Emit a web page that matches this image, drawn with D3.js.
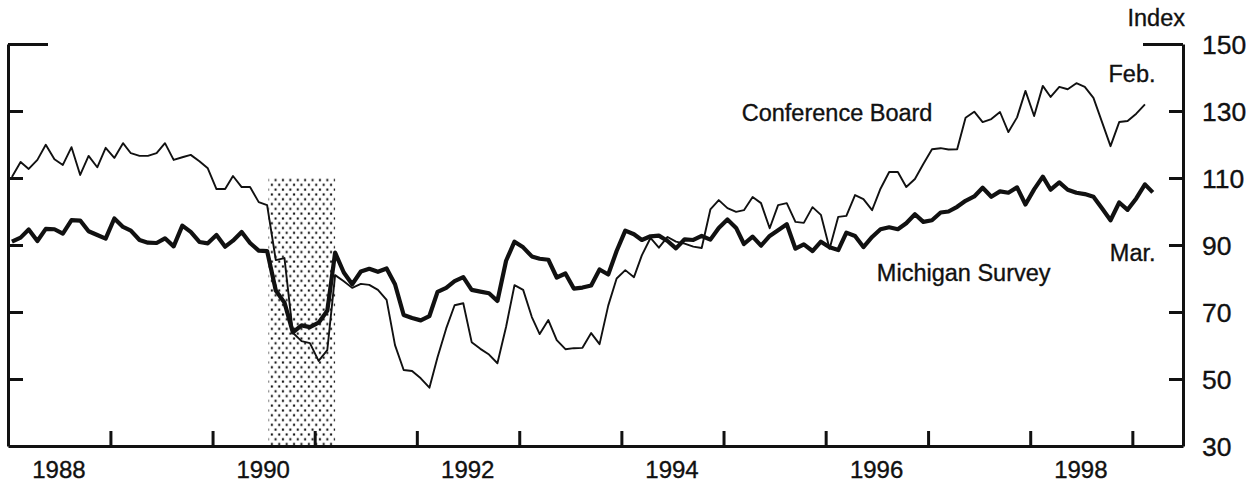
<!DOCTYPE html>
<html>
<head>
<meta charset="utf-8">
<script src="https://cdn.jsdelivr.net/npm/d3@7"></script>
<style>
  body { margin: 0; background: #fff; }
  svg { display: block; }
  text { font-family: "Liberation Sans", Arial, Helvetica, sans-serif; fill: #111; stroke: #111; stroke-width: 0.35px; }
</style>
</head>
<body>
<svg id="chart"></svg>
<script>
// monthly values, Jan 1988 onward
const michigan = [
  91.0, 92.2, 94.6, 91.2, 94.8, 94.7, 93.4, 97.4, 97.3, 94.1, 93.0, 91.9,
  97.9, 95.4, 94.3, 91.5, 90.7, 90.6, 92.0, 89.6, 95.8, 93.9, 90.9, 90.5,
  93.0, 89.5, 91.3, 93.9, 90.6, 88.3, 88.2, 76.4, 72.8, 63.9, 66.0, 65.5,
  66.8, 70.4, 87.7, 81.8, 78.3, 82.1, 82.9, 82.0, 83.0, 78.3, 69.1, 68.2,
  67.5, 68.8, 76.0, 77.2, 79.2, 80.4, 76.6, 76.1, 75.6, 73.3, 85.3, 91.0,
  89.3, 86.6, 85.9, 85.6, 80.3, 81.5, 77.0, 77.3, 77.9, 82.7, 81.2, 88.2,
  94.3, 93.2, 91.5, 92.6, 92.8, 91.2, 89.0, 91.7, 91.5, 92.7, 91.6, 95.1,
  97.6, 95.1, 90.3, 92.5, 89.8, 92.7, 94.4, 96.2, 88.9, 90.2, 88.2, 91.0,
  89.3, 88.5, 93.7, 92.7, 89.4, 92.4, 94.7, 95.3, 94.7, 96.5, 99.2, 96.9,
  97.4, 99.7, 100.0, 101.4, 103.2, 104.5, 107.1, 104.4, 106.0, 105.6, 107.2, 102.1,
  106.6, 110.4, 106.5, 108.7, 106.5, 105.6, 105.2, 104.4, 100.9, 97.4, 102.7, 100.5,
  103.9, 108.1, 105.7
]

const conferenceBoard = [
  110.3, 114.8, 112.7, 115.4, 119.9, 115.6, 113.9, 119.2, 110.9, 116.6, 113.2, 119.0,
  116.0, 120.4, 117.4, 116.6, 116.6, 117.4, 120.4, 115.4, 116.2, 116.9, 115.0, 112.9,
  106.7, 106.7, 110.6, 107.3, 107.3, 102.8, 101.9, 85.5, 86.1, 63.8, 61.3, 60.7,
  55.4, 58.6, 81.0, 79.2, 77.2, 78.4, 78.1, 76.6, 73.6, 60.1, 52.7, 52.4,
  50.2, 47.4, 56.5, 65.1, 72.0, 72.6, 61.0, 59.0, 57.3, 54.7, 65.6, 78.0,
  76.6, 68.5, 63.4, 67.6, 61.6, 58.9, 59.2, 59.3, 63.7, 60.4, 71.9, 80.0,
  82.5, 80.4, 86.9, 92.1, 89.2, 92.4, 91.0, 90.4, 89.5, 89.1, 100.6, 103.4,
  101.0, 99.9, 100.4, 104.3, 102.5, 95.0, 101.9, 102.5, 96.9, 96.6, 101.3, 99.0,
  88.9, 98.4, 98.7, 104.9, 103.7, 100.4, 106.8, 111.8, 111.8, 107.3, 109.7, 114.2,
  118.6, 118.9, 118.5, 118.6, 128.0, 129.8, 126.7, 127.6, 129.7, 123.7, 128.1, 136.0,
  128.5, 137.5, 134.2, 137.2, 136.5, 138.3, 137.2, 133.9, 126.6, 119.5, 126.7, 127.0,
  129.2, 132.0
]

const yTicks = [30, 50, 70, 90, 110, 130, 150]
const yearTicks = [1989, 1990, 1991, 1992, 1993, 1994, 1995, 1996, 1997, 1998, 1999]
const yearLabels = [1988, 1990, 1992, 1994, 1996, 1998]
const recession = { start: [1990, 6], end: [1991, 2], top: 110 }

const width = 1260
const height = 485
const margin = { top: 44, right: 77, bottom: 39, left: 8 }

const monthDate = i => new Date(1988, i, 15)

const x = d3.scaleTime()
  .domain([new Date(1988, 0, 1), new Date(1999, 6, 1)])
  .range([margin.left, width - margin.right])
const y = d3.scaleLinear()
  .domain([30, 150])
  .range([height - margin.bottom, margin.top])

const svg = d3.select('#chart')
  .attr('width', width)
  .attr('height', height)
  .attr('viewBox', [0, 0, width, height])

// dotted recession shading
const defs = svg.append('defs')
const pat = defs.append('pattern')
  .attr('id', 'dots')
  .attr('patternUnits', 'userSpaceOnUse')
  .attr('x', 270)
  .attr('width', 7.4)
  .attr('height', 9.6)
pat.append('rect').attr('x', 0.8).attr('y', 1.4).attr('width', 2.1).attr('height', 2.1).attr('fill', '#111')
pat.append('rect').attr('x', 4.5).attr('y', 6.2).attr('width', 2.1).attr('height', 2.1).attr('fill', '#111')

const r0 = x(new Date(recession.start[0], recession.start[1], 20))
const r1 = x(new Date(recession.end[0], recession.end[1], 15))
svg.append('rect')
  .attr('x', r0)
  .attr('y', y(recession.top))
  .attr('width', r1 - r0)
  .attr('height', y(30) - y(recession.top))
  .attr('fill', 'url(#dots)')

// axes
const axisStyle = g => {
  g.select('.domain').attr('stroke', '#111').attr('stroke-width', 3)
  g.selectAll('.tick line').attr('stroke', '#111').attr('stroke-width', 3)
}

svg.append('g')
  .attr('transform', `translate(0,${y(30)})`)
  .call(d3.axisBottom(x)
    .tickValues(yearTicks.map(yr => new Date(yr, 0, 1)))
    .tickSizeInner(-15)
    .tickSizeOuter(0)
    .tickFormat(''))
  .call(axisStyle)

svg.append('g')
  .attr('transform', `translate(${x.range()[0]},0)`)
  .call(d3.axisLeft(y).tickValues(yTicks.slice(1)).tickSizeInner(-15).tickSizeOuter(0).tickFormat(''))
  .call(axisStyle)
  .call(g => g.selectAll('.tick').filter(d => d === 150).select('line').attr('x2', 40))

const right = svg.append('g')
  .attr('transform', `translate(${x.range()[1]},0)`)
  .call(d3.axisRight(y).tickValues(yTicks).tickSizeInner(-14).tickSizeOuter(0).tickPadding(19))
  .call(axisStyle)
right.selectAll('.tick').filter(d => d === 150).select('line').attr('x2', -40)
right.selectAll('.tick').filter(d => d === 30).select('line').remove()
right.selectAll('.tick text')
  .attr('font-size', 26.5)
  .attr('font-family', '"Liberation Sans", Arial, sans-serif')
  .attr('fill', '#111')
  .attr('dy', '0.36em')

// year labels centred within the year
svg.append('g')
  .selectAll('text')
  .data(yearLabels)
  .join('text')
  .attr('x', d => x(new Date(d, 6, 1)))
  .attr('y', y(30) + 32)
  .attr('text-anchor', 'middle')
  .attr('font-size', 24)
  .text(d => d)

// series
const line = d3.line()
  .x((d, i) => x(monthDate(i)))
  .y(d => y(d))

svg.append('path')
  .datum(conferenceBoard)
  .attr('d', line)
  .attr('fill', 'none')
  .attr('stroke', '#111')
  .attr('stroke-width', 1.9)
  .attr('stroke-linejoin', 'round')

svg.append('path')
  .datum(michigan)
  .attr('d', line)
  .attr('fill', 'none')
  .attr('stroke', '#111')
  .attr('stroke-width', 4.2)
  .attr('stroke-linejoin', 'round')

// labels
const labels = svg.append('g').attr('font-size', 23.5)
labels.append('text').attr('x', x.range()[1] + 2).attr('y', 26).attr('text-anchor', 'end').text('Index')
labels.append('text').attr('x', x(new Date(1995, 3, 1)) - 7).attr('y', y(130) + 10).text('Conference Board')
labels.append('text').attr('x', x(new Date(1996, 8, 15)) - 21).attr('y', y(70) - 31).text('Michigan Survey')
labels.append('text').attr('x', x(new Date(1999, 3, 1)) - 2).attr('y', y(140) + 4).attr('text-anchor', 'end').text('Feb.')
labels.append('text').attr('x', x(new Date(1999, 3, 1)) - 2).attr('y', y(90) + 16).attr('text-anchor', 'end').text('Mar.')
</script>
</body>
</html>
